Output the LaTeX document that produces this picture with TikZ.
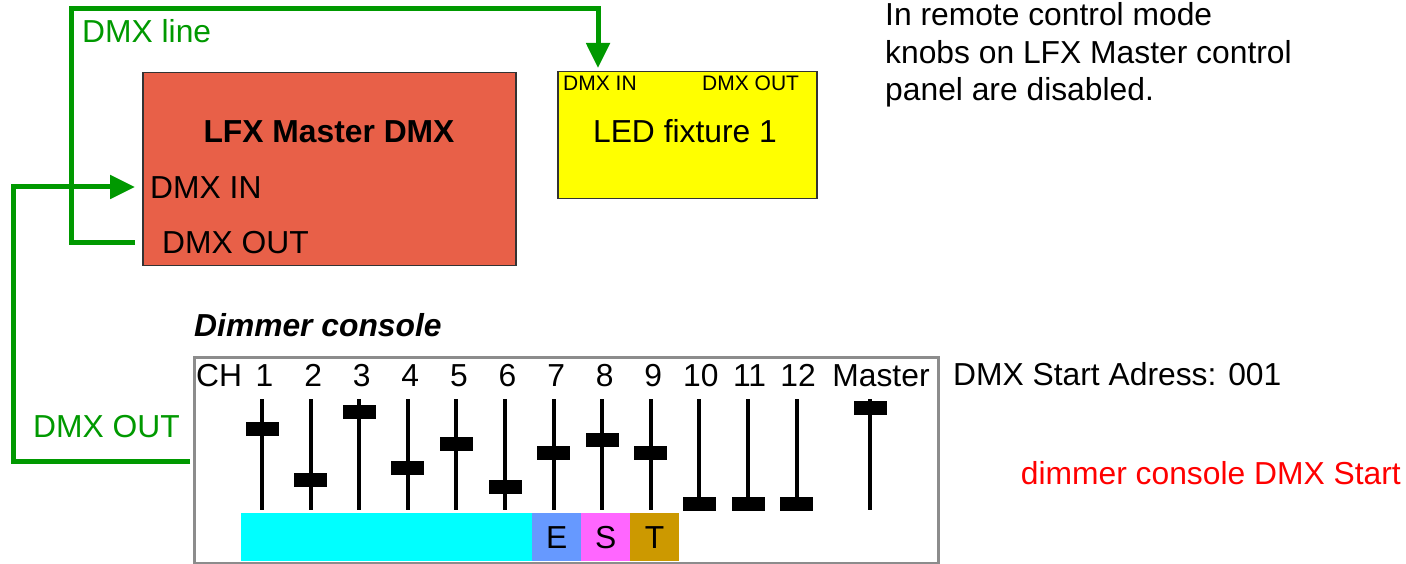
\documentclass[tikz,border=0pt]{standalone}
\usepackage{fontspec}
\setmainfont{Liberation Sans}
\usetikzlibrary{arrows.meta}
\definecolor{wiregreen}{HTML}{009900}
\definecolor{lfxred}{HTML}{E86048}
\definecolor{ledyellow}{HTML}{FFFF00}
\definecolor{chcyan}{HTML}{00FFFF}
\definecolor{eblue}{HTML}{6699FF}
\definecolor{smagenta}{HTML}{FF66FF}
\definecolor{tgold}{HTML}{CC9900}
\definecolor{notered}{HTML}{FF0000}
\begin{document}
\begin{tikzpicture}[x=1pt,y=-1pt,
  txt/.style={inner sep=0pt, font=\fontsize{31.8}{37.5}\selectfont},
  boldtxt/.style={inner sep=0pt, font=\fontsize{31.8}{37.5}\selectfont\bfseries},
  bitxt/.style={inner sep=0pt, font=\fontsize{31.8}{37.5}\selectfont\bfseries\itshape},
  smalltxt/.style={inner sep=0pt, font=\fontsize{21}{25}\selectfont},
  wire/.style={draw=wiregreen, line width=5pt},
  arrowwire/.style={wire, -{Triangle[length=25pt,width=23pt]}},
  track/.style={line width=4pt},
  knob/.style={fill=black, minimum width=33pt, minimum height=14pt, inner sep=0pt, anchor=center},
  bar/.style={minimum width=49pt, minimum height=48pt, inner sep=0pt, anchor=north west, font=\fontsize{31.8}{37.5}\selectfont},
  box/.style={inner sep=0pt, anchor=north west}
]
\useasboundingbox (0,0) rectangle (1406,564);

% LFX Master box
\node[box, draw=black!80, line width=1.5pt, fill=lfxred, minimum width=373pt, minimum height=193pt] (lfx) at (142,72) {};
\node[boldtxt, anchor=base] (lfxtitle) at (329,143) {LFX Master DMX};
\node[txt, anchor=base west] (lfxin) at (150,199) {DMX IN};
\node[txt, anchor=base west] (lfxout) at (162,254) {DMX OUT};

% LED fixture
\node[box, draw=black!80, line width=1.5pt, fill=ledyellow, minimum width=259pt, minimum height=127pt] (led) at (557,71) {};
\node[smalltxt, anchor=base west] (ledin) at (563,91) {DMX IN};
\node[smalltxt, anchor=base west] (ledout) at (702,91) {DMX OUT};
\node[txt, anchor=base] (ledname) at (685,143) {LED fixture 1};

% note
\node[txt, anchor=base west] (note1) at (885,26) {In remote control mode};
\node[txt, anchor=base west] (note2) at (885,63.5) {knobs on LFX Master control};
\node[txt, anchor=base west] (note3) at (885,101) {panel are disabled.};

% labels
\node[txt, text=wiregreen, anchor=base west] (linelabel) at (82,43) {DMX line};
\node[txt, text=wiregreen, anchor=base west] (outlabel) at (33,437) {DMX OUT};
\node[bitxt, anchor=base west] (consoletitle) at (194,336) {Dimmer console};
\node[txt, anchor=base west] (startaddr) at (953,385) {DMX Start Adress: 001};
\node[txt, text=notered, anchor=base east] (startnote) at (1401,484) {dimmer console DMX Start};

% console
\node[box, draw=black!45, line width=3pt, minimum width=744pt, minimum height=206pt] (console) at (193,356) {};
\node[box, fill=chcyan, minimum width=291pt, minimum height=48pt] (chbar) at (241,513) {};
\node[bar, fill=eblue] (ebar) at (532,513) {E};
\node[bar, fill=smagenta] (sbar) at (581,513) {S};
\node[bar, fill=tgold] (tbar) at (630,513) {T};

\node[txt, anchor=base west] (chlabel) at (196,386) {CH};
\foreach \i/\x/\k/\d in {1/262/429/2.5, 2/310.6/480/2.5, 3/359.2/411.5/2.5, 4/407.8/468/2.5, 5/456.4/443.5/2.5, 6/505/487/2.5, 7/553.6/453/2.5, 8/602.2/440/2.5, 9/650.8/453/2.5, 10/699.4/503.5/1.5, 11/748/503.5/1.5, 12/796.6/503.5/1.5} {
  \draw[track] (\x,399) -- (\x,510);
  \node[knob] (knob\i) at (\x,\k) {};
  \node[txt, anchor=base] (ch\i) at ({\x+\d},386) {\i};
}
\draw[track] (870,399) -- (870,510);
\node[knob] (knobmaster) at (870.5,408) {};
\node[txt, anchor=base] (chmaster) at (881,386) {Master};

% ports and wires
\coordinate (lfxOutPort) at (135,243);
\coordinate (lfxInPort) at (135,187);
\coordinate (ledInPort) at (598,68);
\coordinate (consoleOutPort) at (190,461);
\coordinate (bendA) at (71,9);
\coordinate (bendB) at (13,187);
\draw[arrowwire] (lfxOutPort) -| (bendA) -| (ledInPort);
\draw[arrowwire] (consoleOutPort) -| (bendB) -- (lfxInPort);
\end{tikzpicture}
\end{document}
